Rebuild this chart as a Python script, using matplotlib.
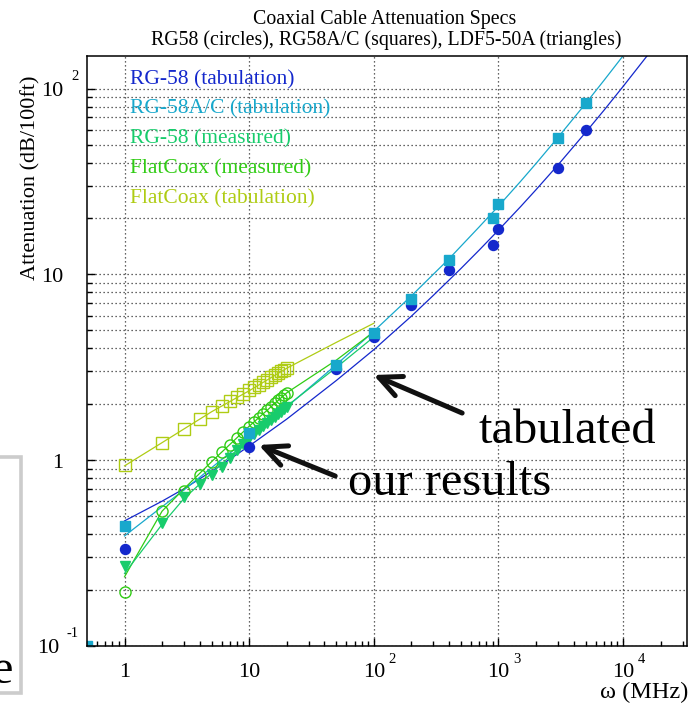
import matplotlib
matplotlib.use("Agg")
import matplotlib.pyplot as plt
from matplotlib.patches import Rectangle
from matplotlib.ticker import LogLocator, NullFormatter

plt.rcParams['font.family'] = ['Liberation Serif', 'DejaVu Serif']

# ---------------- data ----------------
# tabulated attenuation (dB/100ft) vs frequency (MHz)
tab_freq = [1, 10, 50, 100, 200, 400, 900, 1000, 3000, 5000]
rg58_tab = [0.33, 1.18, 3.09, 4.61, 6.83, 10.5, 14.4, 17.5, 37.4, 59.8]
rg58ac_tab = [0.44, 1.40, 3.25, 4.85, 7.36, 11.9, 20.0, 23.9, 54.2, 83.6]
# an entry sitting at the lower-left limits of the axes
rg58ac_floor_f = [0.5]
rg58ac_floor_v = [0.1]

# measured / tabulated sweep, 1..20 MHz
meas_freq = list(range(1, 21))
rg58_meas = [0.27, 0.46, 0.63, 0.74, 0.83, 0.92, 1.03, 1.13, 1.22, 1.31,
             1.38, 1.45, 1.52, 1.58, 1.64, 1.70, 1.76, 1.82, 1.88, 1.94]
flat_meas = [0.195, 0.53, 0.68, 0.83, 0.98, 1.10, 1.21, 1.31, 1.41, 1.51,
             1.60, 1.69, 1.78, 1.86, 1.94, 2.02, 2.10, 2.17, 2.24, 2.30]
flat_tab = [0.94, 1.24, 1.47, 1.66, 1.82, 1.95, 2.07, 2.18, 2.28, 2.37,
            2.46, 2.55, 2.63, 2.71, 2.79, 2.86, 2.93, 3.00, 3.06, 3.12]

# fitted curves, sampled
rg58_fit_f = [1, 2, 3, 5, 7, 10, 20, 50, 100, 200, 300, 500, 700, 1000,
              1500, 2000, 3000, 5000, 7000, 10000, 16000]
rg58_fit_v = [0.47, 0.60, 0.70, 0.87, 1.01, 1.19, 1.66, 2.68, 3.93, 5.95, 7.7, 10.75, 13.5, 17.3,
              23.1, 28.55, 38.8, 58.1, 76.3, 102.8, 153.7]
rg58ac_fit_f = [1, 2, 3, 5, 10, 20, 50, 100, 200, 400, 700, 1000, 1500, 2000,
                3000, 5000, 7000, 10000, 11000]
rg58ac_fit_v = [0.39, 0.56, 0.69, 0.91, 1.32, 1.93, 3.26, 4.94, 7.65, 12.1, 18.0, 23.3, 31.6, 39.5,
                54.6, 83.1, 110.5, 150.4, 163.5]
rg58m_fit_f = [1, 2, 3, 5, 10, 20, 50, 100]
rg58m_fit_v = [0.245, 0.45, 0.62, 0.85, 1.30, 1.95, 3.15, 4.6]
flatm_fit_f = [1, 2, 3, 5, 10, 20, 50, 100]
flatm_fit_v = [0.235, 0.53, 0.70, 0.98, 1.52, 2.30, 3.45, 4.9]
flatt_fit_f = [1, 2, 3, 5, 10, 20, 50, 100]
flatt_fit_v = [0.93, 1.24, 1.47, 1.82, 2.36, 3.12, 4.3, 5.45]

legend_labels = ["RG-58 (tabulation)", "RG-58A/C (tabulation)", "RG-58 (measured)",
                 "FlatCoax (measured)", "FlatCoax (tabulation)"]

# ---------------- style ----------------
C_RG58 = '#1428cc'
C_RG58AC = '#18a8cc'
C_RG58M = '#18cc6c'
C_FLATM = '#30cc14'
C_FLATT = '#afcc14'
colors = [C_RG58, C_RG58AC, C_RG58M, C_FLATM, C_FLATT]

W, H, DPI = 691, 705, 100
PT = 72.0 / DPI  # points per pixel

fig = plt.figure(figsize=(W / DPI, H / DPI), dpi=DPI)
ax = fig.add_axes([87 / W, 1 - 645.7 / H, 600.3 / W, 590 / H])
ax.set_xscale('log')
ax.set_yscale('log')
ax.set_xlim(0.5, 3.27e4)
ax.set_ylim(0.1, 150.4)

for s in ax.spines.values():
    s.set_linewidth(1.1)

dot = (0, (1, 2.2))
ax.grid(True, which='major', axis='x', linestyle=dot, color='#333333', linewidth=0.9)
ax.grid(True, which='both', axis='y', linestyle=dot, color='#333333', linewidth=0.9)
ax.set_axisbelow(True)

ax.tick_params(which='both', direction='in', top=False, right=False,
               labelbottom=False, labelleft=False, width=1.0)
ax.tick_params(which='major', length=8 * PT)
ax.tick_params(which='minor', length=5 * PT)
for a in (ax.xaxis, ax.yaxis):
    a.set_major_locator(LogLocator(base=10, numticks=20))
    a.set_minor_locator(LogLocator(base=10, subs=range(2, 10), numticks=20))
    a.set_minor_formatter(NullFormatter())

# fitted curves
ax.plot(rg58_fit_f, rg58_fit_v, '-', color=C_RG58, lw=0.9)
ax.plot(rg58ac_fit_f, rg58ac_fit_v, '-', color=C_RG58AC, lw=0.9)
ax.plot(flatt_fit_f, flatt_fit_v, '-', color=C_FLATT, lw=0.9)
ax.plot(flatm_fit_f, flatm_fit_v, '-', color=C_FLATM, lw=0.9)
ax.plot(rg58m_fit_f, rg58m_fit_v, '-', color=C_RG58M, lw=0.9)

# markers
ax.plot(meas_freq, flat_tab, 's', ms=8.0, mfc='none', mec=C_FLATT, mew=1.0)
ax.plot(meas_freq, flat_meas, 'o', ms=8.0, mfc='none', mec=C_FLATM, mew=1.0)
ax.plot(meas_freq, rg58_meas, 'v', ms=7.5, color=C_RG58M, mec=C_RG58M)
ax.plot(tab_freq, rg58_tab, 'o', ms=7.2, color=C_RG58, mec=C_RG58)
ax.plot(tab_freq, rg58ac_tab, 's', ms=7.0, color=C_RG58AC, mec=C_RG58AC)
ax.plot(rg58ac_floor_f, rg58ac_floor_v, 's', ms=7.0, color=C_RG58AC, clip_on=True)

# legend-like coloured labels
for i, (lab, c) in enumerate(zip(legend_labels, colors)):
    fig.text(130 / W, 1 - (84 + 29.8 * i) / H, lab, color=c, fontsize=15.5,
             ha='left', va='baseline')

# titles
fig.text(385 / W, 1 - 24 / H, "Coaxial Cable Attenuation Specs", fontsize=14.3,
         ha='center', va='baseline')
fig.text(386 / W, 1 - 45 / H, "RG58 (circles), RG58A/C (squares), LDF5-50A (triangles)",
         fontsize=14.3, ha='center', va='baseline')

# axis titles
fig.text(31 / W, 1 - 76 / H, "Attenuation (dB/100ft)", fontsize=16, rotation=90,
         ha='center', va='top')
fig.text(688 / W, 1 - 698 / H, "\u03c9 (MHz)", fontsize=17.5, ha='right', va='baseline')

# tick labels
lab_fs, exp_fs = 16, 10.5
x_ticks = [1, 10, 100, 1000, 10000]
x_base = ['1', '10', '10', '10', '10']
x_exp = ['', '', '2', '3', '4']
for v, b, e in zip(x_ticks, x_base, x_exp):
    t = ax.annotate(b, xy=(v, 0), xycoords=('data', 'axes fraction'),
                    xytext=(0, -31 * PT), textcoords='offset points',
                    ha='center', va='baseline', fontsize=lab_fs)
    if e:
        ax.annotate(e, xy=(1, 0), xycoords=(t, 'axes fraction'),
                    xytext=(3.3 * PT, -17 * PT), textcoords='offset points',
                    ha='left', va='baseline', fontsize=exp_fs)

y_ticks = [0.1, 1, 10, 100]
y_base = ['10', '1', '10', '10']
y_exp = ['-1', '', '', '2']
for v, b, e in zip(y_ticks, y_base, y_exp):
    if e:
        te = ax.annotate(e, xy=(0, v), xycoords=('axes fraction', 'data'),
                         xytext=(-8.5 * PT, 9 * PT), textcoords='offset points',
                         ha='right', va='baseline', fontsize=exp_fs)
        ax.annotate(b, xy=(0, v), xycoords=(te, 'data'),
                    xytext=(-7.5 * PT, -7.5 * PT), textcoords='offset points',
                    ha='right', va='baseline', fontsize=lab_fs)
    else:
        ax.annotate(b, xy=(0, v), xycoords=('axes fraction', 'data'),
                    xytext=(-23.5 * PT, -7.5 * PT), textcoords='offset points',
                    ha='right', va='baseline', fontsize=lab_fs)

# annotations with arrows
big = 34.8
ax.text(686, 1.235, "tabulated", fontsize=big, ha='left', va='baseline')
ax.text(62.2, 0.648, "our results", fontsize=big, ha='left', va='baseline')
arrow = dict(arrowstyle='->,head_length=1.6,head_width=0.75', lw=3.6, color='#111111',
             shrinkA=0, shrinkB=0)
ax.annotate('', xy=(99.3, 2.87), xytext=(511, 1.79), arrowprops=arrow)
ax.annotate('', xy=(11.9, 1.205), xytext=(49, 0.82), arrowprops=arrow)

# partially visible panel at the left edge
fig.patches.append(Rectangle((-40 / W, 1 - 693 / H), 60.7 / W, 236 / H,
                             transform=fig.transFigure, fill=False,
                             edgecolor='#cccccc', lw=2.6))
fig.text(12 / W, 1 - 683 / H, "e", fontsize=big, ha='right', va='baseline')

fig.savefig("out.png", dpi=DPI)
